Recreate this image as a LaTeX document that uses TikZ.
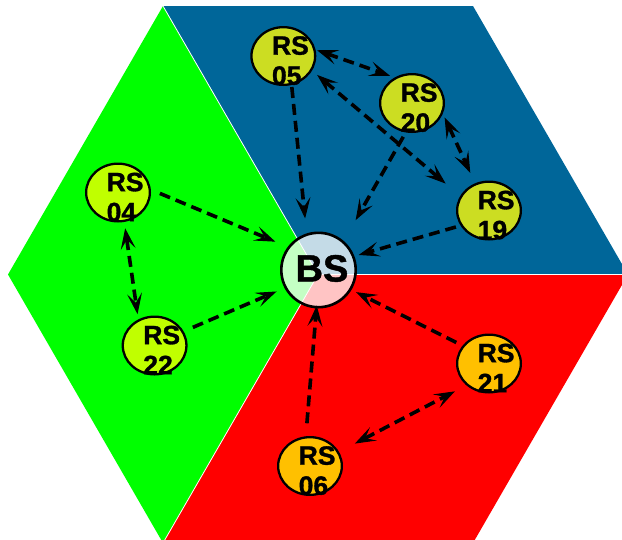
\documentclass[tikz,border=0pt]{standalone}
\usepackage{fontspec}
\setmainfont{Liberation Sans}
\newfontfamily\labelfont[FakeBold=1.2]{Liberation Sans Bold}
\usetikzlibrary{arrows.meta,shapes.geometric,calc}

\definecolor{sectorblue}{RGB}{0,102,153}
\definecolor{sectorgreen}{RGB}{0,255,0}
\definecolor{sectorred}{RGB}{255,0,0}
\definecolor{relayolive}{RGB}{204,221,34}
\definecolor{relaylime}{RGB}{192,255,0}
\definecolor{relayamber}{RGB}{255,192,0}

\begin{document}
\begin{tikzpicture}[x=1pt,y=-1pt,
  >={Stealth[length=21pt,width=15pt,inset=9.5pt,line width=1pt]},
  relay/.style={ellipse, draw=black, line width=2.3pt, minimum width=63.7pt,
    minimum height=57.7pt, inner sep=0pt},
  relaytext/.style={anchor=north west, inner sep=0pt, align=left,
    font=\labelfont\fontsize{26.5}{30}\selectfont},
  basestation/.style={circle, draw=black, line width=2.6pt, minimum size=74.4pt,
    inner sep=0pt, fill=white, fill opacity=0.77, draw opacity=1},
  basetext/.style={anchor=base, inner sep=0pt,
    font=\labelfont\fontsize{38}{42}\selectfont},
  link/.style={line width=3.6pt, dash pattern=on 11pt off 6pt},
  oneway/.style={link, ->},
  twoway/.style={link, <->},
  seam/.style={white, line width=0.8pt}
]
\useasboundingbox (0,0) rectangle (622,539);

% hexagonal cell split into three sectors
\begin{scope}
  \clip (0,0) rectangle (622,539);
  \coordinate (hc)  at (318,274.5);
  \coordinate (hl)  at (8,274.5);
  \coordinate (htl) at (163,6);
  \coordinate (htr) at (473,6);
  \coordinate (hr)  at (628,274.5);
  \coordinate (hbr) at (473,543);
  \coordinate (hbl) at (163,543);
  \fill[sectorgreen] (hc) -- (htl) -- (hl) -- (hbl) -- cycle;
  \fill[sectorblue]  (hc) -- (htl) -- (htr) -- (hr) -- cycle;
  \fill[sectorred]   (hc) -- (hr) -- (hbr) -- (hbl) -- cycle;
  \draw[seam] (htl) -- (hc) -- (hr) (hc) -- (hbl);
\end{scope}

% base station and relay stations
\node[basestation] (bs) at (318.5,270) {};

\node[relay, fill=relayolive] (rs05) at (283.3,56) {};
\node[relay, fill=relayolive] (rs20) at (412,103) {};
\node[relay, fill=relayolive] (rs19) at (489,210.5) {};
\node[relay, fill=relaylime]  (rs04) at (118,192.5) {};
\node[relay, fill=relaylime]  (rs22) at (154.6,345.5) {};
\node[relay, fill=relayamber] (rs21) at (489,363.5) {};
\node[relay, fill=relayamber] (rs06) at (310,466) {};

% links
\draw[oneway, shorten <=2pt,   shorten >=15pt]   (rs05.-74.8)  -- (bs.108.3);
\draw[oneway, shorten <=5pt,   shorten >=24pt]   (rs20.-102.1) -- (bs.49.2);
\draw[oneway, shorten <=4.8pt, shorten >=4.4pt]  (rs19.-152.7) -- (bs.21.2);
\draw[twoway, shorten <=1.6pt, shorten >=5pt]    (rs05.11.2)   -- (rs20.124.3);
\draw[twoway, shorten <=6.6pt, shorten >=19pt]   (rs05.-27.5)  -- (rs19.153.1);
\draw[twoway, shorten <=4.2pt, shorten >=11.5pt] (rs20.-19.1)  -- (rs19.117.9);
\draw[oneway, shorten <=9.8pt, shorten >=13.4pt] (rs04.5.5)    -- (bs.143.7);
\draw[oneway, shorten <=10pt,  shorten >=8.6pt]  (rs22.26.6)   -- (bs.-152.6);
\draw[twoway, shorten <=6.4pt, shorten >=5.3pt]  (rs04.-78.9)  -- (rs22.122.7);
\draw[oneway, shorten <=6.9pt, shorten >=5.2pt]  (rs21.146)    -- (bs.-31);
\draw[oneway, shorten <=13pt,  shorten >=-3pt]   (rs06.98.9)   -- (bs.-93.3);
\draw[twoway, shorten <=17.8pt, shorten >=13pt]  (rs06.26.1)   -- (rs21.-136.6);

% labels
\node[basetext] (bs-label) at ($(bs)+(3.5,11.5)$) {BS};
\node[relaytext] (rs05-label) at ($(rs05)+(-11.5,-20)$) {RS\\05};
\node[relaytext] (rs20-label) at ($(rs20)+(-11.5,-20)$) {RS\\20};
\node[relaytext] (rs19-label) at ($(rs19)+(-11.5,-20)$) {RS\\19};
\node[relaytext] (rs04-label) at ($(rs04)+(-11.5,-20)$) {RS\\04};
\node[relaytext] (rs22-label) at ($(rs22)+(-11.5,-20)$) {RS\\22};
\node[relaytext] (rs21-label) at ($(rs21)+(-11.5,-20)$) {RS\\21};
\node[relaytext] (rs06-label) at ($(rs06)+(-11.5,-20)$) {RS\\06};
\end{tikzpicture}
\end{document}
